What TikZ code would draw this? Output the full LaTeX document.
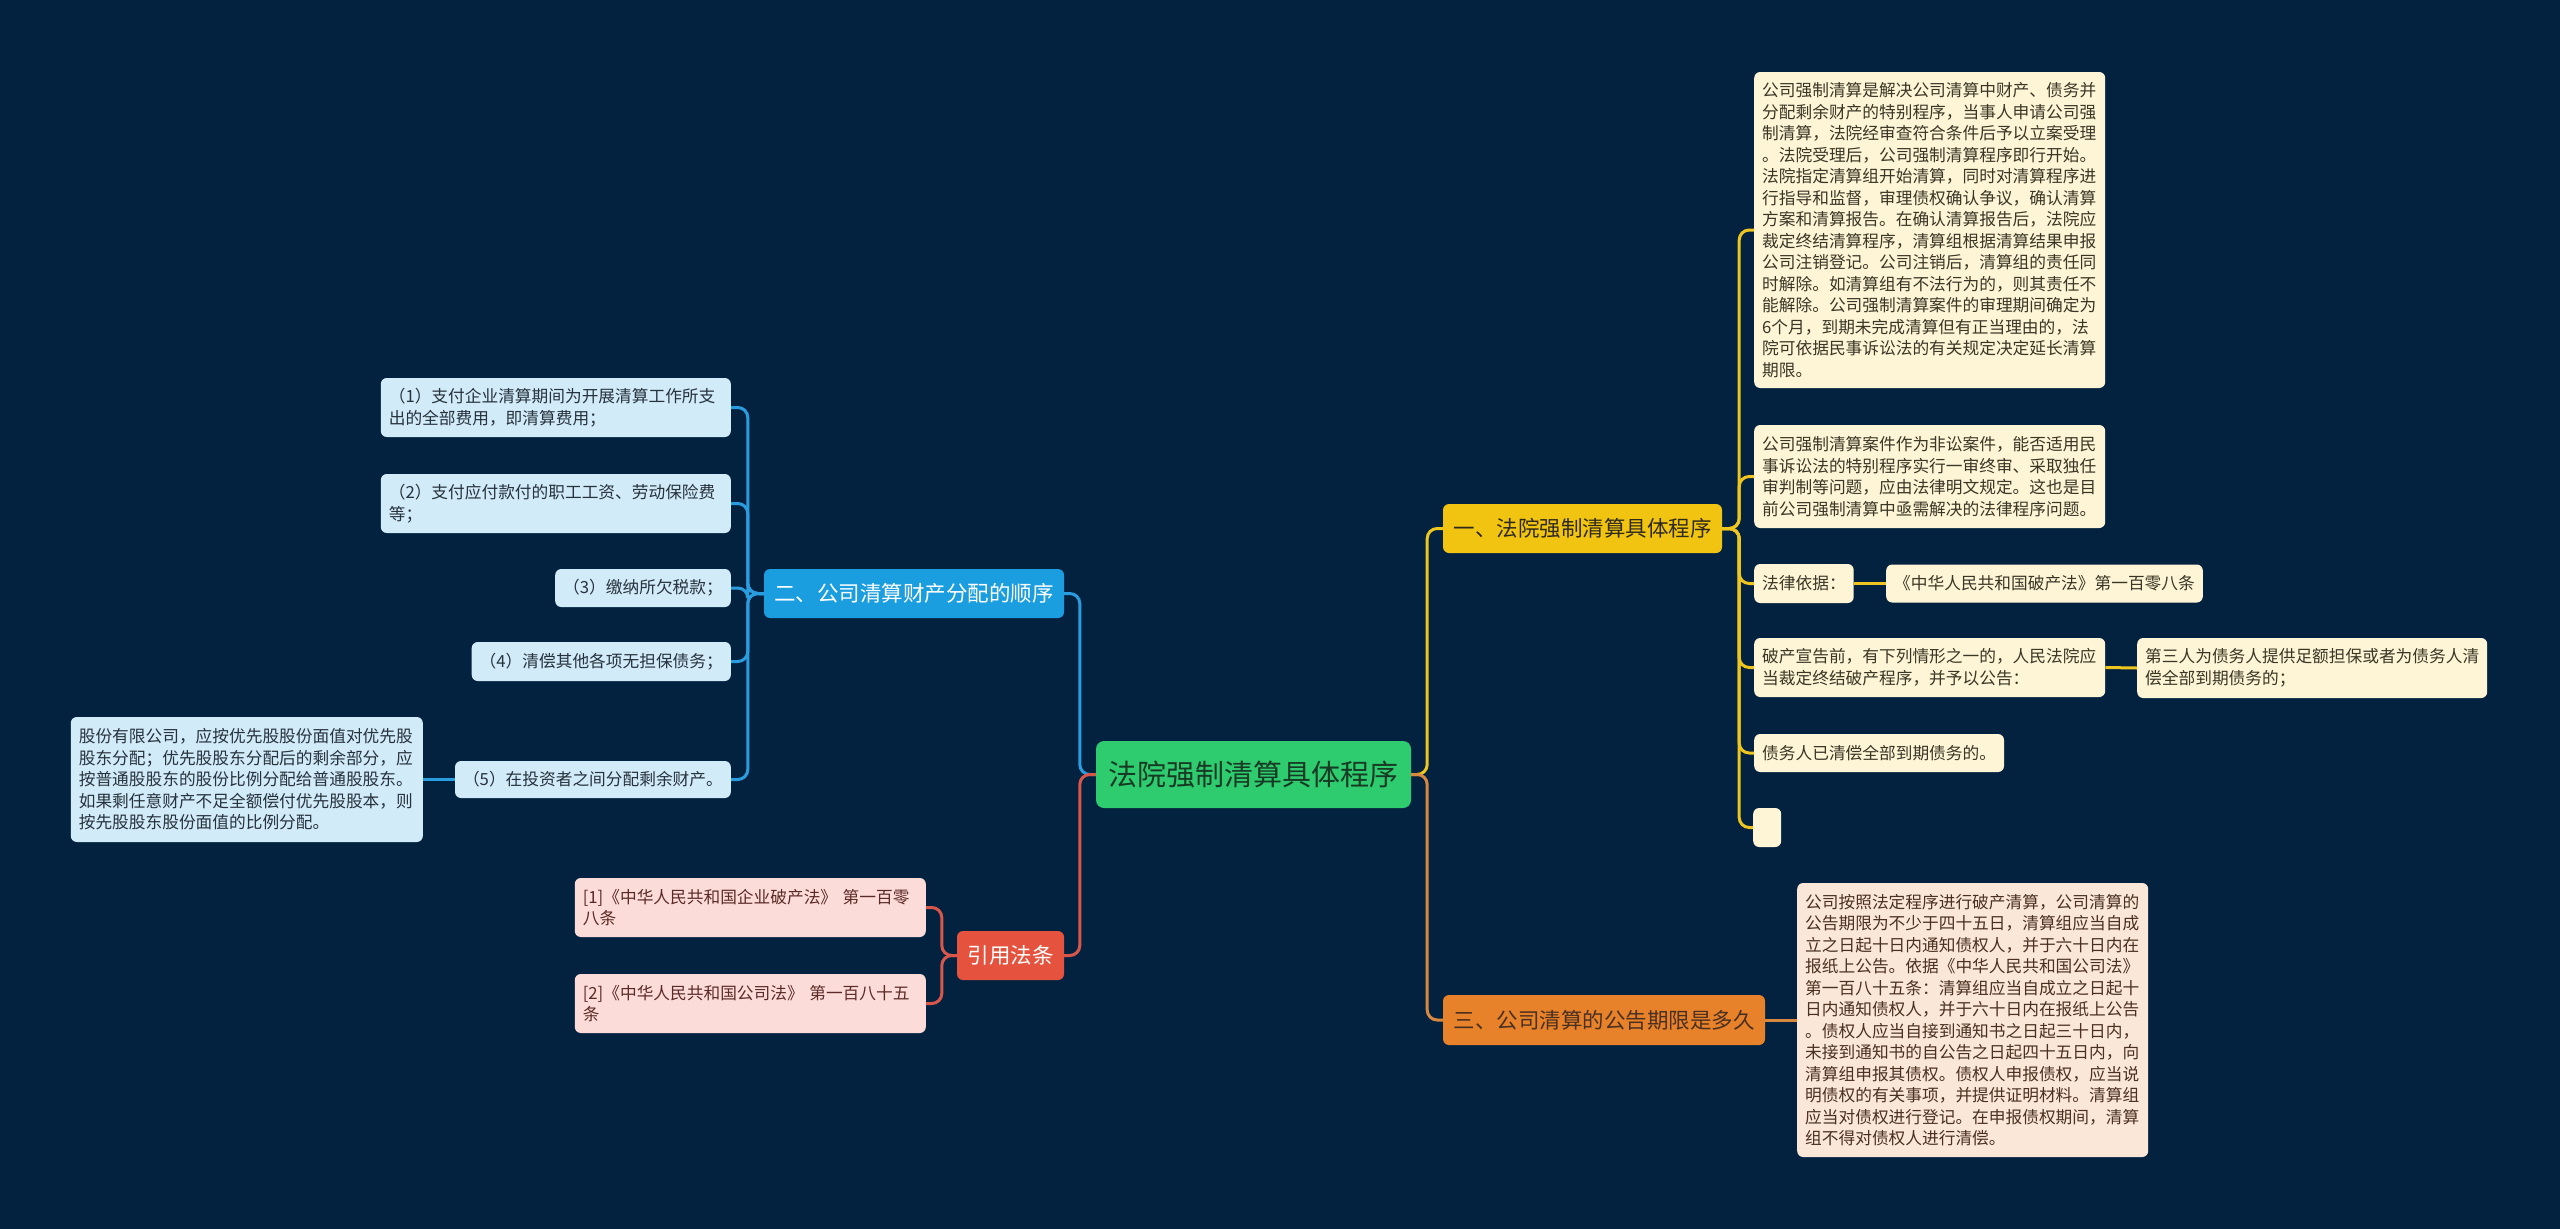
\documentclass[tikz,border=0pt]{standalone}
\usepackage{fontspec}
\setmainfont{Noto Sans CJK SC}
\definecolor{bg}{HTML}{032240}
\definecolor{cGreen}{HTML}{2FCC6F}
\definecolor{cGreenTxt}{HTML}{173A24}
\definecolor{cYellow}{HTML}{F2C412}
\definecolor{cBlue}{HTML}{1B9EE0}
\definecolor{cRed}{HTML}{E5533F}
\definecolor{cOrange}{HTML}{E7822A}
\definecolor{lY}{HTML}{FDF5D5}
\definecolor{lB}{HTML}{D2EBF8}
\definecolor{lR}{HTML}{FBDCD9}
\definecolor{lO}{HTML}{FBE7D8}
\definecolor{tY}{HTML}{3A3626}
\definecolor{tB}{HTML}{26323C}
\definecolor{tR}{HTML}{5B2A26}
\definecolor{tO}{HTML}{4A3020}
\definecolor{tDark}{HTML}{2E2A1A}
\definecolor{lnY}{HTML}{EEC61F}
\definecolor{lnB}{HTML}{2A9DE0}
\definecolor{lnR}{HTML}{D9574A}
\definecolor{lnO}{HTML}{D9883F}
\begin{document}
\begin{tikzpicture}[x=1pt,y=-1pt,
  ctrbox/.style={fill=cGreen, text=cGreenTxt, rounded corners=8pt, inner sep=0pt,
    minimum width=315pt, minimum height=67pt, font=\fontsize{29}{34}\selectfont},
  branch/.style={rounded corners=6pt, inner sep=0pt, font=\fontsize{21.5}{26}\selectfont},
  leaf/.style={rounded corners=6pt, inner xsep=8pt, inner ysep=0pt, align=left,
    font=\fontsize{16.7}{21.5}\selectfont},
  leafY/.style={leaf, fill=lY, text=tY},
  leafB/.style={leaf, fill=lB, text=tB},
  leafR/.style={leaf, fill=lR, text=tR},
  leafO/.style={leaf, fill=lO, text=tO},
  conn/.style={line width=3pt, rounded corners=10pt},
  cY/.style={conn, draw=lnY},
  cB/.style={conn, draw=lnB},
  cR/.style={conn, draw=lnR},
  cO/.style={conn, draw=lnO}]
\useasboundingbox (0,0) rectangle (2560,1229);
\fill[bg] (0,0) rectangle (2560,1229);

% central
\node[ctrbox] (ctr) at (1253.5,774.5) {法院强制清算具体程序};

% main branches
\node[branch, fill=cYellow, text=tDark, minimum width=279pt, minimum height=49pt] (b1) at (1582.5,528.5) {一、法院强制清算具体程序};
\node[branch, fill=cOrange, text=tO, minimum width=322pt, minimum height=50pt] (b3) at (1604,1020) {三、公司清算的公告期限是多久};
\node[branch, fill=cBlue, text=white, minimum width=300pt, minimum height=49pt] (b2) at (914,593.5) {二、公司清算财产分配的顺序};
\node[branch, fill=cRed, text=white, minimum width=107pt, minimum height=49pt] (r) at (1010.5,955.5) {引用法条};

% right leaves (yellow)
\node[leafY, anchor=west, text width=335pt, minimum height=316pt] (y1) at (1754,230) {公司强制清算是解决公司清算中财产、债务并\\分配剩余财产的特别程序，当事人申请公司强\\制清算，法院经审查符合条件后予以立案受理\\。法院受理后，公司强制清算程序即行开始。\\法院指定清算组开始清算，同时对清算程序进\\行指导和监督，审理债权确认争议，确认清算\\方案和清算报告。在确认清算报告后，法院应\\裁定终结清算程序，清算组根据清算结果申报\\公司注销登记。公司注销后，清算组的责任同\\时解除。如清算组有不法行为的，则其责任不\\能解除。公司强制清算案件的审理期间确定为\\6个月，到期未完成清算但有正当理由的，法\\院可依据民事诉讼法的有关规定决定延长清算\\期限。};
\node[leafY, anchor=west, text width=335pt, minimum height=103pt] (y2) at (1754,476.5) {公司强制清算案件作为非讼案件，能否适用民\\事诉讼法的特别程序实行一审终审、采取独任\\审判制等问题，应由法律明文规定。这也是目\\前公司强制清算中亟需解决的法律程序问题。};
\node[leafY, anchor=west, minimum height=39pt] (y3) at (1754,583.5) {法律依据：};
\node[leafY, anchor=west, minimum height=38pt] (y3b) at (1886,583.5) {《中华人民共和国破产法》第一百零八条};
\node[leafY, anchor=west, text width=335pt, minimum height=59pt] (y4) at (1754,667.5) {破产宣告前，有下列情形之一的，人民法院应\\当裁定终结破产程序，并予以公告：};
\node[leafY, anchor=west, text width=334pt, minimum height=60pt] (y4b) at (2137,668) {第三人为债务人提供足额担保或者为债务人清\\偿全部到期债务的；};
\node[leafY, anchor=west, minimum height=38pt] (y5) at (1754,753) {债务人已清偿全部到期债务的。};
\node[leafY, anchor=west, inner sep=0pt, minimum width=28pt, minimum height=39pt] (y6) at (1753,827.5) {};

% orange leaf
\node[leafO, anchor=west, text width=335pt, minimum height=274pt] (o1) at (1797,1020) {公司按照法定程序进行破产清算，公司清算的\\公告期限为不少于四十五日，清算组应当自成\\立之日起十日内通知债权人，并于六十日内在\\报纸上公告。依据《中华人民共和国公司法》\\第一百八十五条：清算组应当自成立之日起十\\日内通知债权人，并于六十日内在报纸上公告\\。债权人应当自接到通知书之日起三十日内，\\未接到通知书的自公告之日起四十五日内，向\\清算组申报其债权。债权人申报债权，应当说\\明债权的有关事项，并提供证明材料。清算组\\应当对债权进行登记。在申报债权期间，清算\\组不得对债权人进行清偿。};

% left leaves (blue)
\node[leafB, anchor=east, text width=334pt, minimum height=59pt] (l1) at (731,407.5) {（1）支付企业清算期间为开展清算工作所支\\出的全部费用，即清算费用；};
\node[leafB, anchor=east, text width=334pt, minimum height=59pt] (l2) at (731,503.5) {（2）支付应付款付的职工工资、劳动保险费\\等；};
\node[leafB, anchor=east, minimum height=38pt] (l3) at (731,588) {（3）缴纳所欠税款；};
\node[leafB, anchor=east, minimum height=39pt] (l4) at (731,661.5) {（4）清偿其他各项无担保债务；};
\node[leafB, anchor=east, minimum height=37pt] (l5) at (731,779.5) {（5）在投资者之间分配剩余财产。};
\node[leafB, anchor=east, text width=336pt, minimum height=125pt] (l5c) at (423,779.5) {股份有限公司，应按优先股股份面值对优先股\\股东分配；优先股股东分配后的剩余部分，应\\按普通股股东的股份比例分配给普通股股东。\\如果剩任意财产不足全额偿付优先股股本，则\\按先股股东股份面值的比例分配。};

% red leaves
\node[leafR, anchor=east, text width=335pt, minimum height=59pt] (r1) at (926,907.5) {[1]《中华人民共和国企业破产法》 第一百零\\八条};
\node[leafR, anchor=east, text width=335pt, minimum height=59pt] (r2) at (926,1003.5) {[2]《中华人民共和国公司法》 第一百八十五\\条};

% connectors: central to branches
\draw[cY] (ctr.east) -- ++(16,0) |- (b1.west);
\draw[cO] (ctr.east) -- ++(16,0) |- (b3.west);
\draw[cB] (ctr.west) -- ++(-16,0) |- (b2.east);
\draw[cR] (ctr.west) -- ++(-16,0) |- (r.east);

% branch 1 children
\foreach \n in {y1,y2,y3,y4,y5,y6}
  \draw[cY] (b1.east) -- ++(17,0) |- (\n.west);
\draw[cY] (y3.east) -- (y3b.west);
\draw[cY] (y4.east) -- (y4b.west);

% branch 3 child
\draw[cO] (b3.east) -- (o1.west);

% branch 2 children
\foreach \n in {l1,l2,l3,l4,l5}
  \draw[cB] (b2.west) -- ++(-16,0) |- (\n.east);
\draw[cB] (l5.west) -- (l5c.east);

% red children
\foreach \n in {r1,r2}
  \draw[cR] (r.west) -- ++(-15,0) |- (\n.east);
\end{tikzpicture}
\end{document}
